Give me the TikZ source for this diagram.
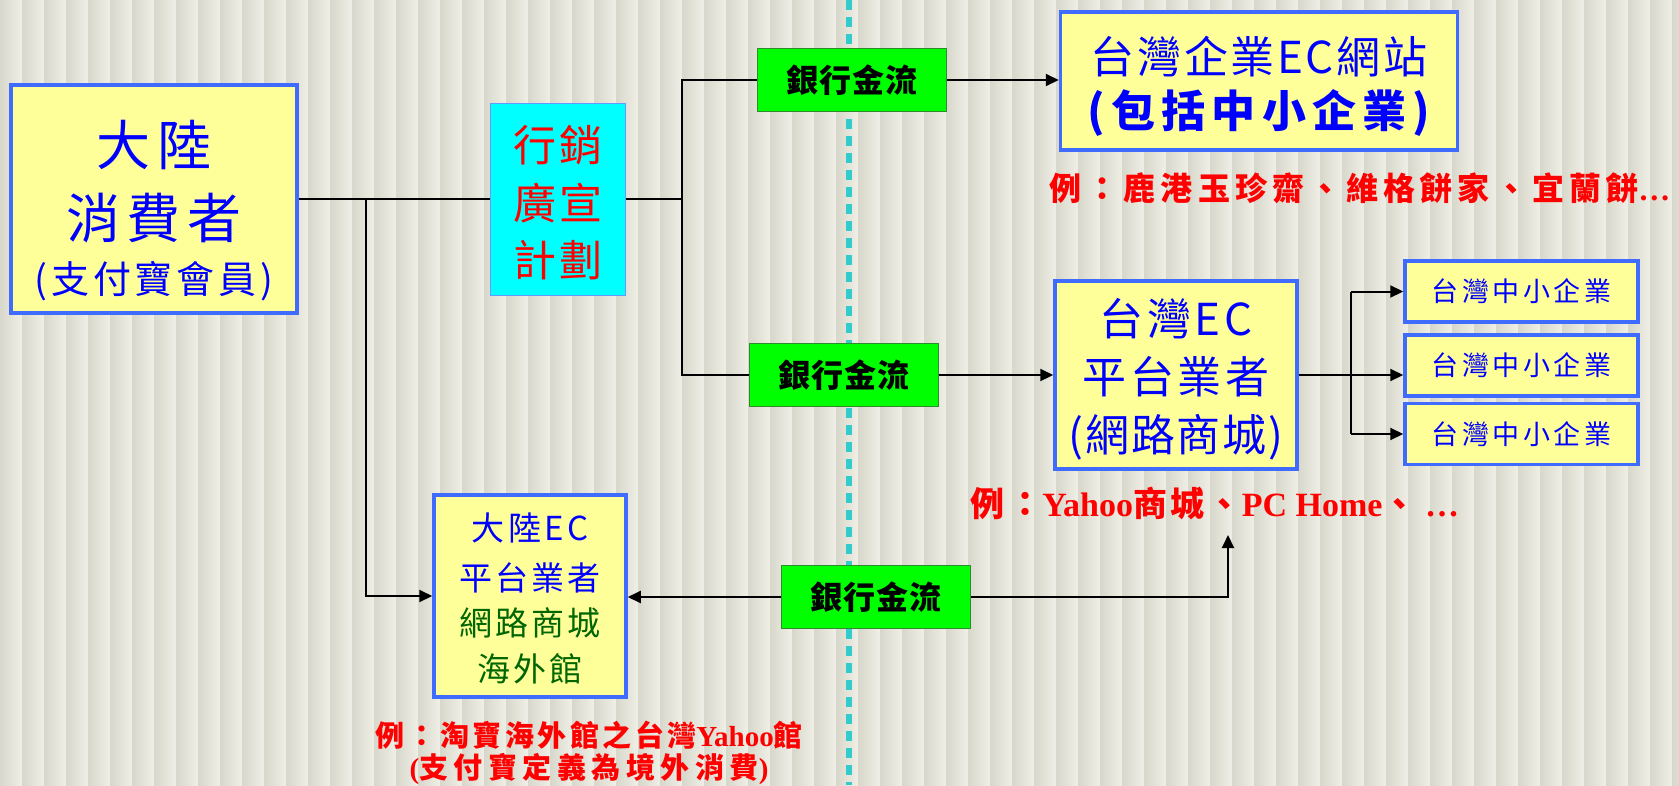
\documentclass[tikz,border=0pt]{standalone}
\usepackage{fontspec}
\setmainfont{Liberation Serif}
\newfontfamily\cjk{Noto Sans CJK TC}
\usetikzlibrary{arrows.meta}
\definecolor{bgbase}{HTML}{E8E7DC}
\definecolor{bgdark}{HTML}{D8D7CB}
\definecolor{bglight}{HTML}{F0EFE7}
\definecolor{boxyellow}{HTML}{FFFF99}
\definecolor{boxblue}{HTML}{3F6CFF}
\definecolor{txtblue}{HTML}{0000FF}
\definecolor{gfill}{HTML}{00FF00}
\definecolor{gborder}{HTML}{2E8B2E}
\definecolor{cyanfill}{HTML}{00FFFF}
\definecolor{cborder}{HTML}{6699FF}
\definecolor{dashcol}{HTML}{33CCCC}
\definecolor{dkgreen}{HTML}{006600}
\definecolor{redtxt}{HTML}{FF0000}
\newcommand\LS[1]{\addfontfeatures{LetterSpace=#1}}
\newcommand\fs[1]{\fontsize{#1}{#1}\selectfont}
\begin{document}
\begin{tikzpicture}[x=1pt,y=-1pt,
  ybox/.style={draw=boxblue, line width=3.5pt, fill=boxyellow, inner sep=0pt},
  gbox/.style={draw=gborder, line width=1.2pt, fill=gfill, minimum width=189pt, minimum height=63pt, inner sep=0pt, font=\cjk\bfseries\fs{32}\LS{4}},
  cbox/.style={draw=cborder, line width=1pt, fill=cyanfill, inner sep=0pt},
  smbox/.style={ybox, minimum width=233pt, minimum height=61pt, text=txtblue, font=\cjk\fs{27}\LS{13}},
  txt/.style={inner sep=0pt, anchor=center},
  conn/.style={draw=black, line width=2pt},
  arr/.style={conn, -{Triangle[length=13pt,width=12pt]}},
]
\useasboundingbox (0,0) rectangle (1679,785);
% background
\fill[bgbase] (0,0) rectangle (1679,785);
\foreach \i in {0,...,76} {
  \shade[left color=bgdark, right color=bglight] ({\i*22},0) rectangle ({\i*22+22},785);
}
% dividing dashed line
\draw[dashcol, line width=6.5pt, dash pattern=on 10pt off 7pt] (849,0) -- (849,785);

% boxes
\node[ybox, minimum width=286pt, minimum height=228pt] (consumer) at (154,199) {};
\node[txt, text=txtblue, font=\cjk\fs{54}\LS{12}] (c1) at (154,145) {大陸};
\node[txt, text=txtblue, font=\cjk\fs{54}\LS{12}] (c2) at (154,218) {消費者};
\node[txt, text=txtblue, font=\cjk\fs{38}\LS{10}] (c3) at (154,281) {(支付寶會員)};

\node[cbox, minimum width=135pt, minimum height=192pt] (mkt) at (558,199) {};
\node[txt, text=redtxt, font=\cjk\fs{43}\LS{6}] (m1) at (558,145) {行銷};
\node[txt, text=redtxt, font=\cjk\fs{43}\LS{6}] (m2) at (558,203) {廣宣};
\node[txt, text=redtxt, font=\cjk\fs{43}\LS{6}] (m3) at (558,260) {計劃};

\node[gbox] (g1) at (852,80) {銀行金流};
\node[gbox] (g2) at (844,375) {銀行金流};
\node[gbox] (g3) at (876,597) {銀行金流};

\node[ybox, minimum width=397pt, minimum height=138pt] (twent) at (1259,81) {};
\node[txt, text=txtblue, font=\cjk\fs{44}\LS{6}] (t1) at (1259,57) {台灣企業EC網站};
\node[txt, text=txtblue, font=\cjk\bfseries\fs{44}\LS{14}] (t2) at (1259,113) {(包括中小企業)};
\node[txt, text=redtxt] (ex1) at (1360,188) {{\cjk\bfseries\fs{32}\LS{16}例：鹿港玉珍齋、維格餅家、宜蘭餅}{\bfseries\fs{32}…}};

\node[ybox, minimum width=242pt, minimum height=188pt] (ecplat) at (1176,375) {};
\node[txt, text=txtblue, font=\cjk\fs{44}\LS{8}] (e1) at (1176,319) {台灣EC};
\node[txt, text=txtblue, font=\cjk\fs{44}\LS{8}] (e2) at (1176,377) {平台業者};
\node[txt, text=txtblue, font=\cjk\fs{44}\LS{4}] (e3) at (1176,437) {(網路商城)};

\node[smbox] (sm1) at (1521.5,291.5) {台灣中小企業};
\node[smbox] (sm2) at (1521.5,365.5) {台灣中小企業};
\node[smbox] (sm3) at (1521.5,434) {台灣中小企業};

\node[txt, text=redtxt] (ex2) at (1215,503) {{\cjk\bfseries\fs{34}\LS{10}例：}{\bfseries\fs{34}Yahoo}{\cjk\bfseries\fs{34}\LS{10}商城、}{\bfseries\fs{34}PC Home}{\cjk\bfseries\fs{34}、}{\bfseries\fs{34}\ …}};

\node[ybox, minimum width=192pt, minimum height=202pt] (daluec) at (530,596) {};
\node[txt, text=txtblue, font=\cjk\fs{33}\LS{10}] (d1) at (530,528) {大陸EC};
\node[txt, text=txtblue, font=\cjk\fs{33}\LS{10}] (d2) at (530,578) {平台業者};
\node[txt, text=dkgreen, font=\cjk\fs{33}\LS{10}] (d3) at (530,623) {網路商城};
\node[txt, text=dkgreen, font=\cjk\fs{33}\LS{10}] (d4) at (530,669) {海外館};

\node[txt, text=redtxt] (ex3a) at (589,735) {{\cjk\bfseries\fs{29}\LS{12}例：淘寶海外館之台灣}{\bfseries\fs{29}Yahoo}{\cjk\bfseries\fs{29}館}};
\node[txt, text=redtxt] (ex3b) at (589,769) {{\bfseries\fs{29}(}{\cjk\bfseries\fs{29}\LS{19}支付寶定義為境外消費}{\bfseries\fs{29})}};

% junctions
\coordinate (j1) at (366,199);
\coordinate (j3) at (682,199);
\coordinate (j2) at (1351,375);
\coordinate (up) at (1228,535);

% connectors
\draw[conn] (consumer.east) -- (mkt.west);
\draw[arr] (j1) |- (daluec.west);
\draw[conn] (mkt.east) -- (j3);
\draw[conn] (g1.west) -| (j3) |- (g2.west);
\draw[arr] (g1.east) -- (g1.east -| twent.west);
\draw[arr] (g2.east) -- (g2.east -| ecplat.west);
\draw[conn] (ecplat.east) -- (j2);
\draw[conn] (j2 |- sm1) -- (j2 |- sm3);
\draw[arr] (j2 |- sm1) -- (sm1.west);
\draw[arr] (j2) -- (j2 -| sm2.west);
\draw[arr] (j2 |- sm3) -- (sm3.west);
\draw[arr] (g3.west) -- (g3.west -| daluec.east);
\draw[arr] (g3.east) -| (up);
\end{tikzpicture}
\end{document}
